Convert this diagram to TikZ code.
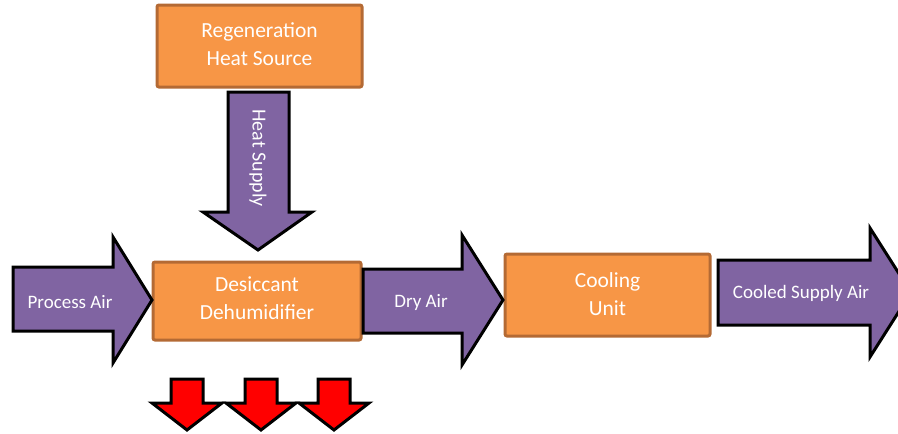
\documentclass[tikz,border=0pt]{standalone}
\usepackage{fontspec}
\setmainfont{Carlito}
\definecolor{boxfill}{HTML}{F79646}
\definecolor{boxline}{HTML}{B46A34}
\definecolor{arrowfill}{HTML}{8064A2}
\tikzset{
  procbox/.style={fill=boxfill, draw=boxline, line width=3pt, rounded corners=2pt},
  blockarrow/.style={fill=arrowfill, draw=black, line width=3pt, line join=miter},
  redarrow/.style={fill=red, draw=black, line width=3pt, line join=miter},
  boxtext/.style={text=white, align=center, font=\fontsize{21.5}{28}\selectfont},
  arrowtext/.style={text=white, align=center, font=\fontsize{19}{23}\selectfont},
}
\begin{document}
\begin{tikzpicture}[x=1pt, y=-1pt]
\useasboundingbox (0,0) rectangle (898,434);
\clip (0,0) rectangle (898,434);
% boxes
\draw[procbox] (157,5) rectangle (362,87);
\node[boxtext] (regen) at (259.5,44) {Regeneration\\Heat Source};
\draw[procbox] (153,262) rectangle (361,340);
\node[boxtext] (desic) at (257,298) {Desiccant\\Dehumidifier};
\draw[procbox] (505,254) rectangle (710,336);
\node[boxtext] (cool) at (607.5,294) {Cooling\\Unit};
% heat supply arrow
\draw[blockarrow] (228,92) -- (289,92) -- (289,212) -- (312,212) -- (258,250) -- (203,212) -- (228,212) -- cycle;
\node[arrowtext, font=\fontsize{20}{24}\selectfont, rotate=-90] (heat) at (258,158) {Heat Supply};
% process air
\draw[blockarrow] (13,267) -- (113,267) -- (113,237) -- (152,300) -- (113,363) -- (113,331) -- (13,331) -- cycle;
\node[arrowtext] (proc) at (70,302) {Process Air};
% dry air
\draw[blockarrow] (363,269) -- (462,269) -- (462,235) -- (503,300) -- (462,365) -- (462,333) -- (363,333) -- cycle;
\node[arrowtext] (dry) at (421,302) {Dry Air};
% cooled supply air
\draw[blockarrow] (718,260) -- (870,260) -- (870,228) -- (911,292.5) -- (870,357) -- (870,325) -- (718,325) -- cycle;
\node[arrowtext] (supply) at (801,293) {Cooled Supply Air};
% red arrows
\foreach \c in {187,261,334}{
  \draw[redarrow] (\c-16,379) -- (\c+16,379) -- (\c+16,403) -- (\c+35,403) -- (\c,430) -- (\c-35,403) -- (\c-16,403) -- cycle;
}
\end{tikzpicture}
\end{document}
